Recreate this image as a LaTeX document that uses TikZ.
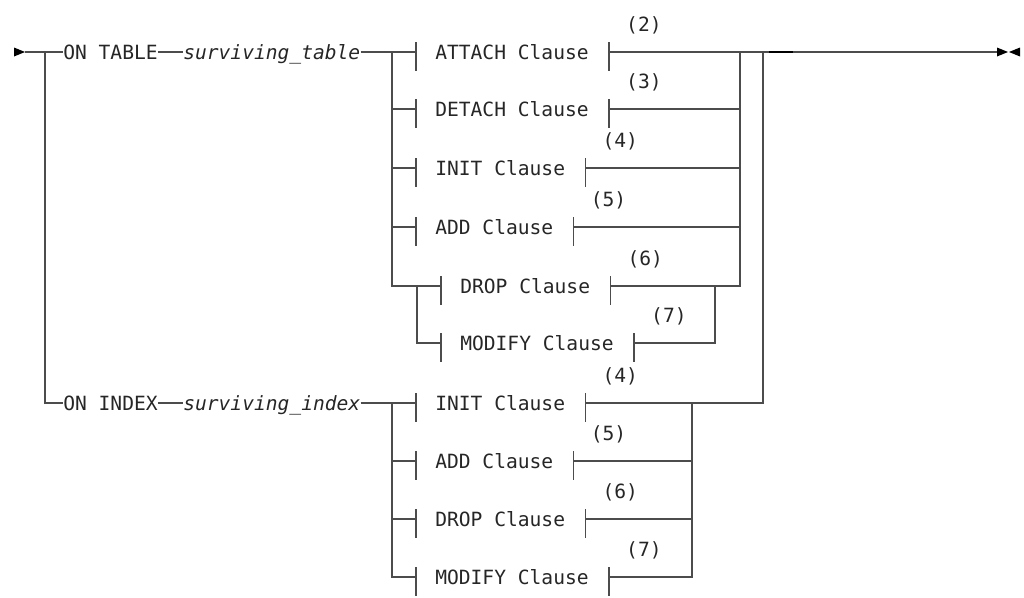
\documentclass[tikz,border=0pt]{standalone}
\usepackage{fontspec}
\setmonofont{DejaVu Sans Mono}
\tikzset{
    rail/.style={draw=black!70, line width=0.9pt},
    kw/.style={font=\ttfamily\fontsize{14.7}{17}\selectfont, inner sep=0pt, anchor=base west, text=black!85},
    var/.style={kw, font=\ttfamily\itshape\fontsize{14.7}{17}\selectfont},
    note/.style={kw, anchor=base},
}
% #1 name, #2 x of left tick, #3 y of rail, #4 text, #5 note
\newcommand\Clause[5]{%
    \coordinate (#1-l) at (#2,#3);
    \node[kw] (#1) at (#2+19,#3+7) {#4};
    \path (#1.east |- #1-l) ++(20,0) coordinate (#1-r);
    \draw[rail] (#1-l) ++(0,-10) -- ++(0,29);
    \draw[rail] (#1-r) ++(0,-10) -- ++(0,29);
    \path (#1-r) ++(35,-21) node[note] (#1-n) {#5};
}
\begin{document}
\begin{tikzpicture}[x=0.75pt,y=-0.75pt]
    \useasboundingbox (0,0) rectangle (1024,597);
    % entry and exit marks
    \coordinate (Start) at (25,52);
    \coordinate (Stop) at (997,52);
    \fill (Start) -- ++(-11,-4.5) -- ++(0,9) -- cycle;
    \fill (Stop) ++(0,-4.5) -- ++(11,4.5) -- ++(-11,4.5) -- cycle;
    \fill (Stop) ++(23,-4.5) -- ++(-11,4.5) -- ++(11,4.5) -- cycle;
    % branch points
    \coordinate (ForkL) at (45,52);
    \coordinate (TableL) at (392,52);
    \coordinate (TableR) at (740,52);
    \coordinate (JoinR) at (763,52);
    \coordinate (DropL) at (417,286);
    \coordinate (DropR) at (715,286);
    \coordinate (IndexL) at (392,403);
    \coordinate (IndexR) at (692,403);
    % keywords
    \node[kw] (OnTable) at (63,59) {ON TABLE};
    \node[var] (SurvTable) at (183,59) {surviving\_table};
    \node[kw] (OnIndex) at (63,410) {ON INDEX};
    \node[var] (SurvIndex) at (183,410) {surviving\_index};
    % clauses
    \Clause{Attach}{416}{52}{ATTACH Clause}{(2)}
    \Clause{Detach}{416}{109}{DETACH Clause}{(3)}
    \Clause{TInit}{416}{168}{INIT Clause}{(4)}
    \Clause{TAdd}{416}{227}{ADD Clause}{(5)}
    \Clause{TDrop}{441}{286}{DROP Clause}{(6)}
    \Clause{TModify}{441}{343}{MODIFY Clause}{(7)}
    \Clause{IInit}{416}{403}{INIT Clause}{(4)}
    \Clause{IAdd}{416}{461}{ADD Clause}{(5)}
    \Clause{IDrop}{416}{519}{DROP Clause}{(6)}
    \Clause{IModify}{416}{577}{MODIFY Clause}{(7)}
    % main rail
    \draw[rail] (Start) -- (OnTable.west |- Start);
    \draw[rail] (ForkL) |- (OnIndex.west |- IInit-l);
    \draw[rail] (OnTable.east |- Start) -- (SurvTable.west |- Start);
    \draw[rail] (SurvTable.east |- Start) -- (Attach-l);
    \draw[rail] (OnIndex.east |- IInit-l) -- (SurvIndex.west |- IInit-l);
    \draw[rail] (SurvIndex.east |- IInit-l) -- (IInit-l);
    \draw[rail] (Attach-r) -- (Stop);
    \draw[line width=1.6pt] (769,52) -- (793,52);
    % table choices
    \draw[rail] (TableL) |- (TDrop-l);
    \foreach \n in {Detach,TInit,TAdd}
        \draw[rail] (TableL |- \n-l) -- (\n-l);
    \draw[rail] (DropL) |- (TModify-l);
    \draw[rail] (TDrop-r) -| (TableR);
    \foreach \n in {Detach,TInit,TAdd}
        \draw[rail] (\n-r) -- (TableR |- \n-r);
    \draw[rail] (TModify-r) -| (DropR);
    % index choices
    \draw[rail] (IndexL) |- (IModify-l);
    \foreach \n in {IAdd,IDrop}
        \draw[rail] (IndexL |- \n-l) -- (\n-l);
    \draw[rail] (IInit-r) -| (JoinR);
    \draw[rail] (IModify-r) -| (IndexR);
    \foreach \n in {IAdd,IDrop}
        \draw[rail] (\n-r) -- (IndexR |- \n-r);
\end{tikzpicture}
\end{document}
